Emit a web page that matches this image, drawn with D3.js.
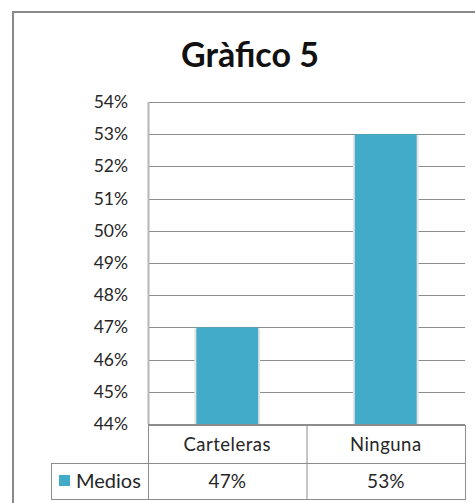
<!DOCTYPE html>
<html>
<head>
<meta charset="utf-8">
<script src="https://cdn.jsdelivr.net/npm/d3@7"></script>
<style>
  body { margin: 0; background: #fff; }
  text { font-family: Lato, "Open Sans", sans-serif; fill: #262626; }
</style>
</head>
<body>
<div id="chart"></div>
<script>
// chart data
var categories = ["Carteleras", "Ninguna"];
var seriesName = "Medios";
var values = [0.47, 0.53];
var valueLabels = ["47%", "53%"];
var yTicks = [0.44, 0.45, 0.46, 0.47, 0.48, 0.49, 0.50, 0.51, 0.52, 0.53, 0.54];
var barColor = "#41abc9";

var width = 475, height = 503;
var plot = { left: 148, right: 465, top: 102, bottom: 424 };

var svg = d3.select("#chart").append("svg")
    .attr("width", width).attr("height", height);

// outer chart border
svg.append("rect")
    .attr("x", 13).attr("y", 12)
    .attr("width", 490).attr("height", 510)
    .attr("fill", "none").attr("stroke", "#8a8a8a").attr("stroke-width", 2);

// title
svg.append("text")
    .attr("x", 250).attr("y", 67)
    .attr("text-anchor", "middle")
    .attr("font-size", "34px").attr("font-weight", "bold")
    .style("fill", "#111")
    .text("Gràfico 5");

var x = d3.scaleBand().domain(categories).range([plot.left, plot.right]).paddingInner(0).paddingOuter(0);
var y = d3.scaleLinear().domain([0.44, 0.54]).range([plot.bottom, plot.top]);

// gridlines
svg.append("g").selectAll("line").data(yTicks).enter().append("line")
    .attr("x1", plot.left).attr("x2", plot.right)
    .attr("y1", function(d){ return Math.round(y(d)) + 0.5; })
    .attr("y2", function(d){ return Math.round(y(d)) + 0.5; })
    .attr("stroke", "#8c8c8c").attr("stroke-width", 1);

// y axis labels
svg.append("g").selectAll("text").data(yTicks).enter().append("text")
    .attr("x", 128).attr("y", function(d){ return y(d) + 6; })
    .attr("text-anchor", "end")
    .attr("font-size", "17.5px")
    .text(d3.format(".0%"));

// bars with a soft shadow
var barW = x.bandwidth() * 0.39;
var bars = svg.append("g").selectAll("g").data(values).enter().append("g");
bars.append("rect")
    .attr("x", function(d, i){ return x(categories[i]) + (x.bandwidth() - barW) / 2 - 2; })
    .attr("y", function(d){ return y(d) + 1; })
    .attr("width", barW + 4)
    .attr("height", function(d){ return plot.bottom - y(d) - 1; })
    .attr("fill", "#e4e4e4");
bars.append("rect")
    .attr("x", function(d, i){ return x(categories[i]) + (x.bandwidth() - barW) / 2; })
    .attr("y", function(d){ return y(d); })
    .attr("width", barW)
    .attr("height", function(d){ return plot.bottom - y(d); })
    .attr("fill", barColor);

// y axis line
svg.append("line")
    .attr("x1", plot.left + 0.5).attr("x2", plot.left + 0.5)
    .attr("y1", plot.top).attr("y2", plot.bottom)
    .attr("stroke", "#b5b5b5").attr("stroke-width", 2);

// data table
var row1 = plot.bottom + 1, row2 = 463, row3 = 499, legendLeft = 51;
var tbl = svg.append("g").attr("stroke", "#8c8c8c").attr("stroke-width", 1).attr("fill", "none");
tbl.append("rect").attr("x", plot.left + 0.5).attr("y", row1 + 0.5)
    .attr("width", plot.right - plot.left).attr("height", row2 - row1);
tbl.append("rect").attr("x", legendLeft + 0.5).attr("y", row2 + 0.5)
    .attr("width", plot.right - legendLeft).attr("height", row3 - row2);
tbl.selectAll("line.sep").data(categories.slice(1)).enter().append("line")
    .attr("x1", function(d){ return x(d) + 0.5; }).attr("x2", function(d){ return x(d) + 0.5; })
    .attr("y1", row1).attr("y2", row3);
tbl.append("line")
    .attr("x1", plot.left + 0.5).attr("x2", plot.left + 0.5)
    .attr("y1", row2).attr("y2", row3);

svg.append("g").selectAll("text").data(categories).enter().append("text")
    .attr("x", function(d){ return x(d) + x.bandwidth() / 2; })
    .attr("y", (row1 + row2) / 2 + 7)
    .attr("text-anchor", "middle")
    .attr("font-size", "18.5px")
    .attr("letter-spacing", "0.5px")
    .text(function(d){ return d; });

svg.append("g").selectAll("text").data(valueLabels).enter().append("text")
    .attr("x", function(d, i){ return x(categories[i]) + x.bandwidth() / 2; })
    .attr("y", (row2 + row3) / 2 + 7)
    .attr("text-anchor", "middle")
    .attr("font-size", "19px")
    .text(function(d){ return d; });

// legend key
svg.append("rect")
    .attr("x", 59).attr("y", 475).attr("width", 11).attr("height", 11)
    .attr("fill", barColor);
svg.append("text")
    .attr("x", 76).attr("y", 488)
    .attr("font-size", "20px")
    .text(seriesName);
</script>
</body>
</html>
